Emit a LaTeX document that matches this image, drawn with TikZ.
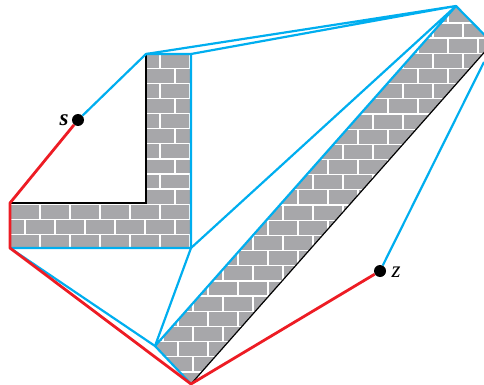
\documentclass[tikz,border=0pt]{standalone}
\usepackage{fontspec}
\setmainfont{Liberation Serif}
\definecolor{wallgray}{RGB}{167,167,170}
\definecolor{pathblue}{RGB}{0,174,239}
\definecolor{pathred}{RGB}{237,28,36}
\tikzset{
  mortar/.style={white, line width=1.3pt},
  bluepath/.style={pathblue, line width=2.2pt, line join=round},
  redpath/.style={pathred, line width=2.8pt, line join=round},
  wallside/.style={black, line width=1.2pt},
  terminal/.style={circle, fill=black, inner sep=0pt, minimum size=12pt},
  termlabel/.style={font=\itshape\fontsize{23}{23}\selectfont, inner sep=0pt}
}
\begin{document}
\begin{tikzpicture}[x=1pt, y=-1pt]
  \useasboundingbox (0,0) rectangle (484,385);
  \coordinate (a) at (146,54);
  \coordinate (b) at (191,54);
  \coordinate (c) at (191,248);
  \coordinate (d) at (10,248);
  \coordinate (e) at (10,203);
  \coordinate (f) at (146,203);
  \coordinate (g) at (456,6);
  \coordinate (h) at (492.5,43);
  \coordinate (i) at (191,384);
  \coordinate (j) at (155,346);
  % L-shaped wall
  \begin{scope}
    \clip (a) -- (b) -- (c) -- (d) -- (e) -- (f) -- cycle;
    \fill[wallgray] (0,50) rectangle (200,250);
    \foreach \k in {0,...,13} {
      \draw[mortar] (0,{53.2+15.1*\k}) -- (200,{53.2+15.1*\k});
      \pgfmathsetmacro{\xs}{isodd(\k) ? -5 : -20}
      \foreach \n in {1,...,7} {
        \draw[mortar] ({\xs+30*\n},{53.2+15.1*\k}) -- ({\xs+30*\n},{68.3+15.1*\k});
      }
    }
  \end{scope}
  % slanted wall
  \begin{scope}
    \clip (g) -- (h) -- (i) -- (j) -- cycle;
    \fill[wallgray] (150,0) rectangle (484,385);
    \foreach \k in {0,...,25} {
      \draw[mortar] (150,{7.8+15.17*\k}) -- (500,{7.8+15.17*\k});
      \pgfmathsetmacro{\xs}{isodd(\k) ? 103 : 118}
      \foreach \n in {1,...,13} {
        \draw[mortar] ({\xs+30*\n},{7.8+15.17*\k}) -- ({\xs+30*\n},{23+15.17*\k});
      }
    }
  \end{scope}
  \node[terminal] (s) at (78,120) {};
  \node[terminal] (z) at (380,271) {};
  \node[termlabel, anchor=base] (slabel) at (64,125) {\bfseries s};
  \node[termlabel, anchor=base] (zlabel) at (396,277) {z};
  \draw[wallside] (a) -- (f) -- (e);
  \draw[wallside] (i) -- (h);
  \draw[bluepath] (s) -- (a) -- (b) -- (c) -- (d);
  \draw[bluepath] (a) -- (g) -- (b);
  \draw[bluepath] (c) -- (g) -- (j) -- (c);
  \draw[bluepath] (d) -- (j) -- (i);
  \draw[bluepath] (g) -- (h);
  \draw[bluepath] (z) -- (484,62);
  \draw[redpath] (s) -- (e) -- (d) -- (i) -- (z);
\end{tikzpicture}
\end{document}
